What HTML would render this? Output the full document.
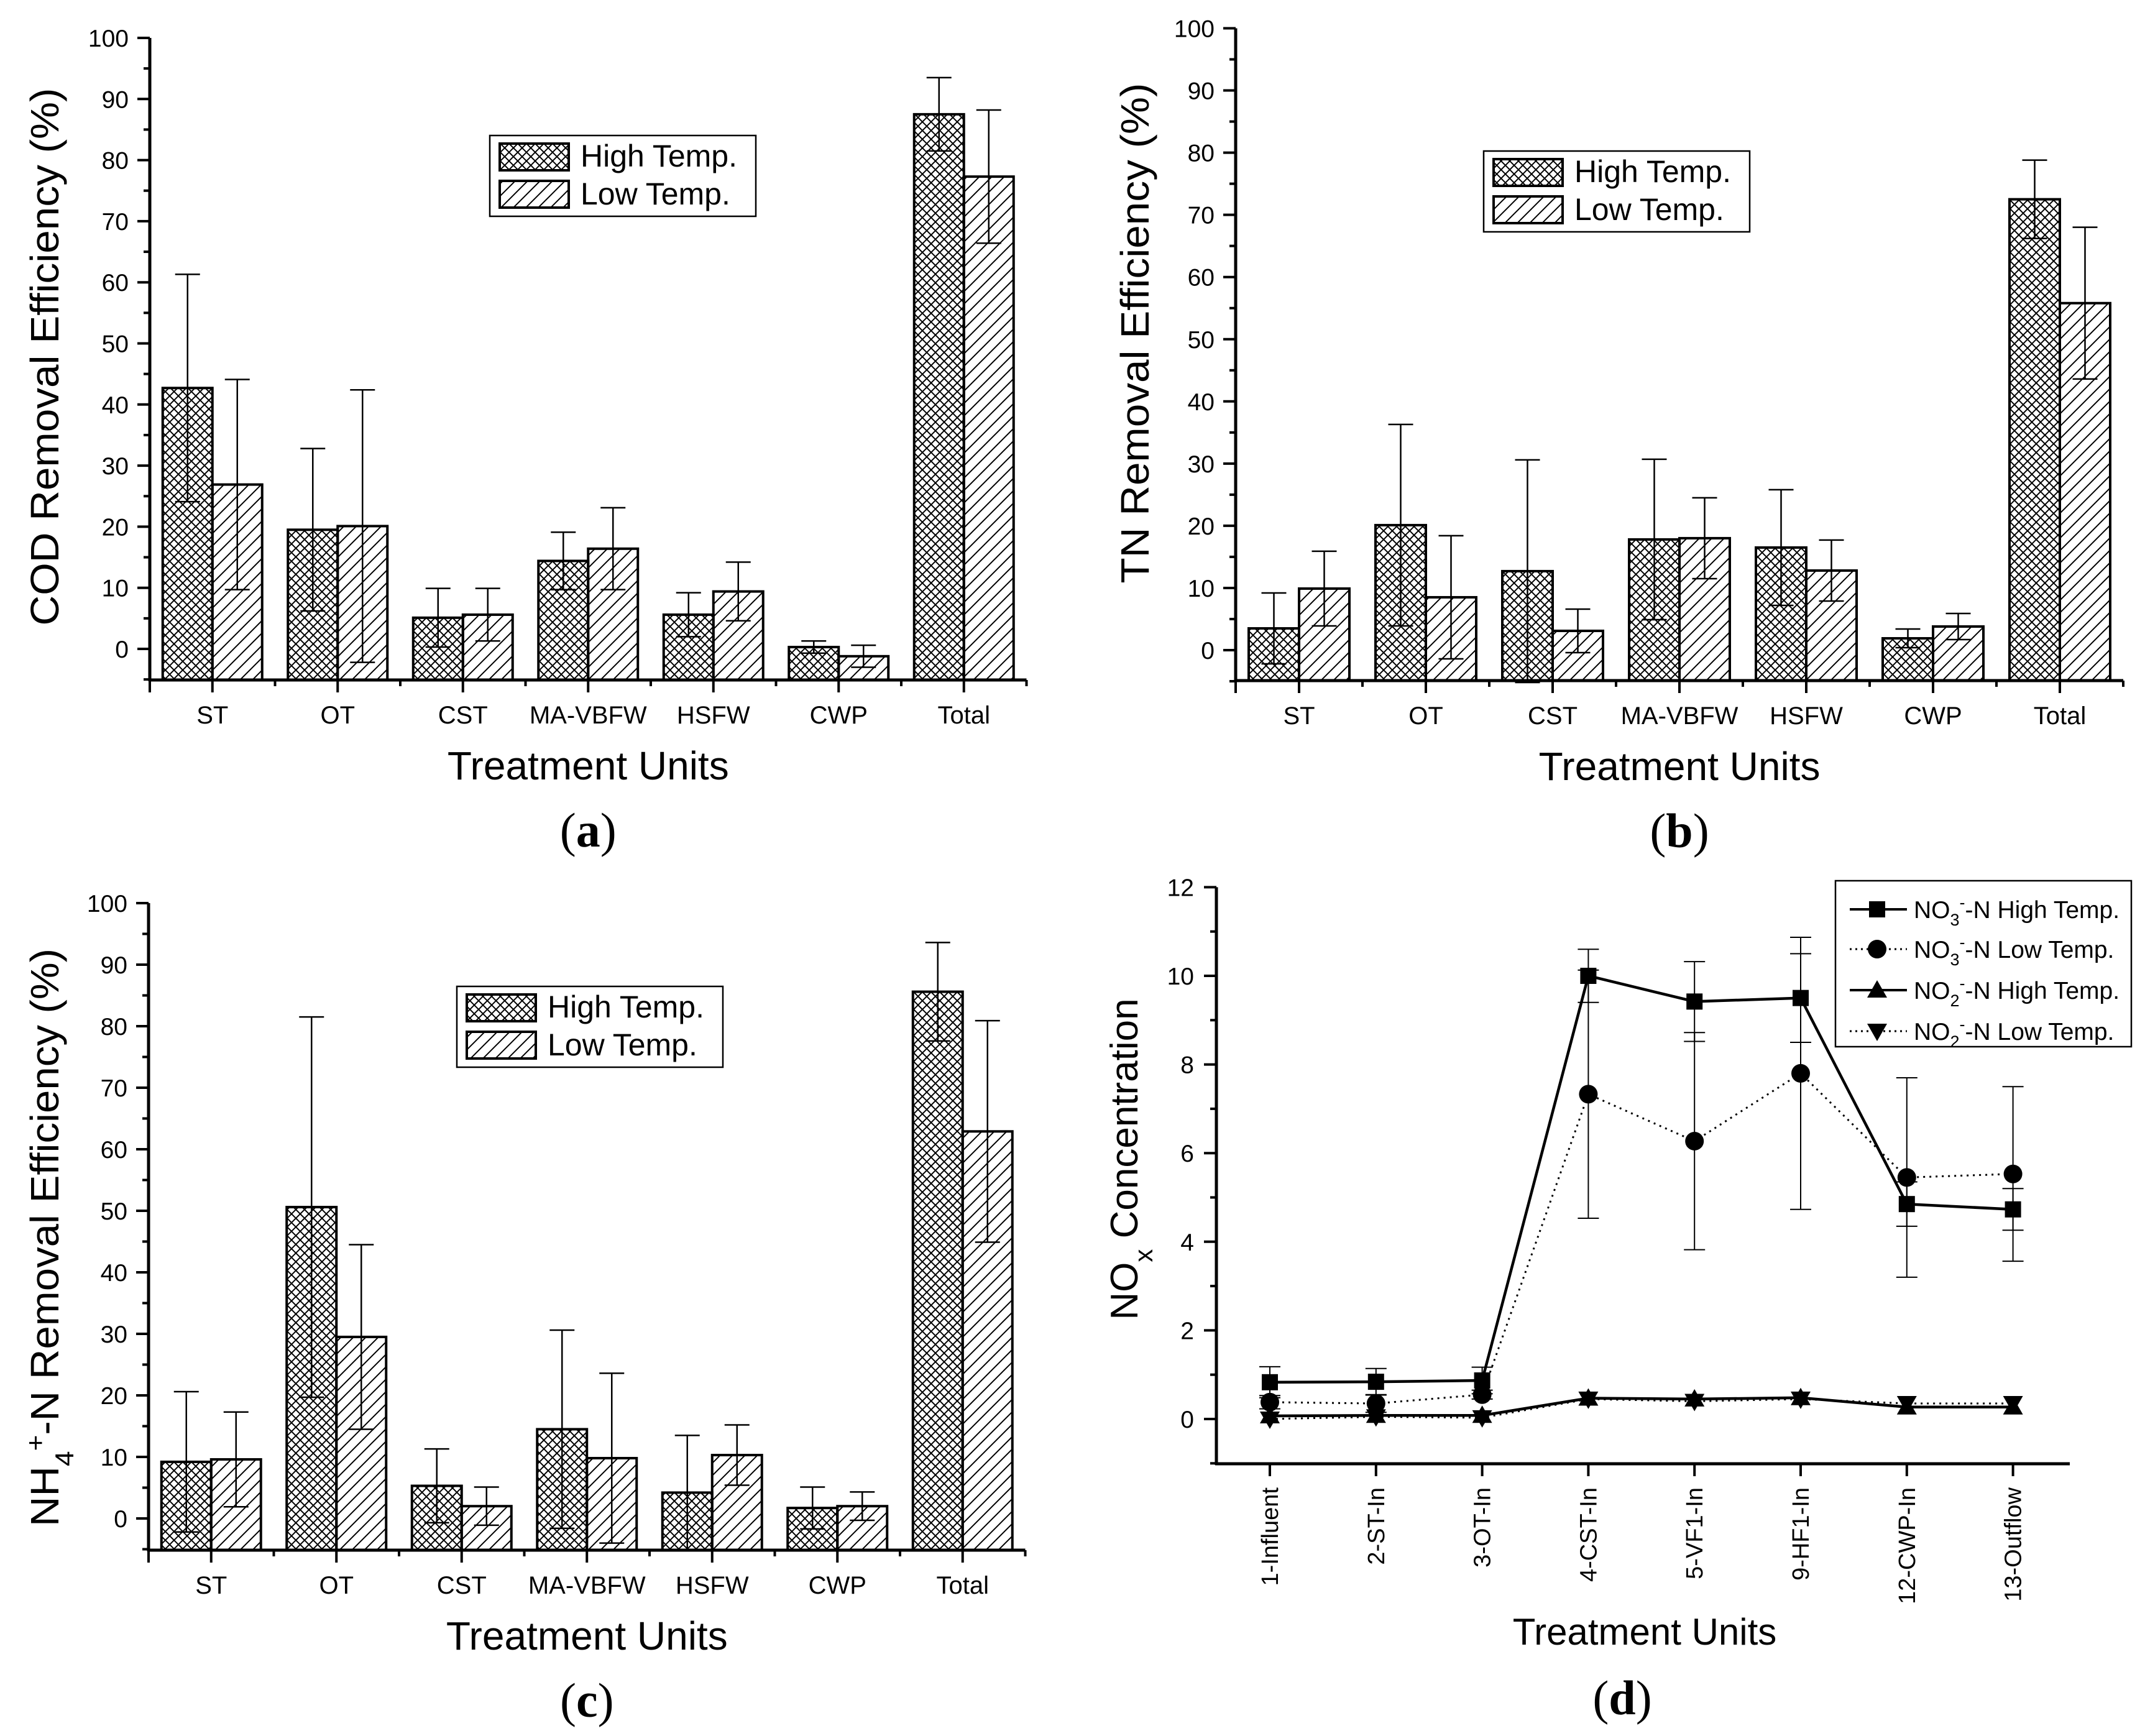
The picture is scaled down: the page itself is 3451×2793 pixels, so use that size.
<!DOCTYPE html>
<html><head><meta charset="utf-8"><title>Removal efficiency charts</title>
<style>
html,body{margin:0;padding:0;background:#fff;}
svg{display:block;font-family:"Liberation Sans",Arial,sans-serif;}
.serif{font-family:"Liberation Serif","DejaVu Serif",serif;}
</style></head>
<body>
<svg id="fig" xmlns="http://www.w3.org/2000/svg" width="3451" height="2793" viewBox="0 0 3451 2793">
<defs>
<pattern id="cross" patternUnits="userSpaceOnUse" width="14" height="14">
<path d="M0,0 L14,14 M14,0 L0,14" stroke="#000" stroke-width="2" fill="none"/>
</pattern>
<pattern id="diag" patternUnits="userSpaceOnUse" width="20" height="20">
<path d="M-5,25 L25,-5 M-5,5 L5,-5 M15,25 L25,15" stroke="#000" stroke-width="2" fill="none"/>
</pattern>
</defs>
<rect x="0" y="0" width="3451" height="2793" fill="#fff"/>
</svg>
<script>
// ---- bar chart data ----
const catsBar = ['ST','OT','CST','MA-VBFW','HSFW','CWP','Total'];
const yTicksBar = [0,10,20,30,40,50,60,70,80,90,100];
const codHigh = [42.7,19.5,5.1,14.4,5.6,0.3,87.5];
const codHighErr = [18.6,13.3,4.8,4.7,3.6,1.0,6.0];
const codLow = [26.9,20.1,5.6,16.4,9.4,-1.2,77.3];
const codLowErr = [17.2,22.3,4.3,6.7,4.8,1.8,10.9];
const tnHigh = [3.5,20.1,12.7,17.8,16.5,1.9,72.5];
const tnHighErr = [5.7,16.2,17.9,12.9,9.3,1.5,6.3];
const tnLow = [9.9,8.5,3.1,18.0,12.8,3.8,55.8];
const tnLowErr = [6.0,9.9,3.5,6.5,4.9,2.1,12.2];
const nhHigh = [9.2,50.6,5.3,14.5,4.2,1.7,85.6];
const nhHighErr = [11.4,30.9,6.0,16.1,9.3,3.4,8.0];
const nhLow = [9.6,29.5,2.0,9.8,10.3,2.0,62.9];
const nhLowErr = [7.7,15.0,3.1,13.8,4.9,2.3,18.0];
// ---- line chart data ----
const dCats = ['1-Influent','2-ST-In','3-OT-In','4-CST-In','5-VF1-In','9-HF1-In','12-CWP-In','13-Outflow'];
const yTicksD = [0,2,4,6,8,10,12];
const no3High = [0.83,0.84,0.87,10.0,9.42,9.5,4.85,4.73];
const no3HighErr = [0.35,0.3,0.3,0.6,0.9,1.0,0.5,0.47];
const no3Low = [0.38,0.35,0.55,7.33,6.27,7.8,5.45,5.53];
const no3LowErr = [0.15,0.2,0.1,2.8,2.45,3.07,2.25,1.97];
const no2High = [0.07,0.08,0.08,0.47,0.45,0.48,0.27,0.27];
const no2Low = [0.0,0.05,0.03,0.45,0.4,0.45,0.35,0.35];

const NS = 'http://www.w3.org/2000/svg';
const svg = document.getElementById('fig');
function mk(tag, attrs, parent){
  const el = document.createElementNS(NS, tag);
  for (const k in attrs) el.setAttribute(k, attrs[k]);
  (parent || svg).appendChild(el);
  return el;
}
function line(g,x1,y1,x2,y2,w){ return mk('line',{x1:x1,y1:y1,x2:x2,y2:y2,stroke:'#000','stroke-width':w||4},g); }

function barPanel(cfg){
  const g = mk('g',{});
  
  
  const unit = (cfg.y0 - cfg.y100)/100;
  const yS = v => cfg.y0 - v*unit;
  const xC = i => cfg.ax + cfg.sp/2 + i*cfg.sp;
  const right = cfg.ax + cfg.sp*catsBar.length;
  const bw = cfg.bw;
  for (let i=0;i<catsBar.length;i++){
    const series = [[cfg.high[i],cfg.highErr[i],'url(#cross)',-1,'high'],[cfg.low[i],cfg.lowErr[i],'url(#diag)',0,'low']];
    for (const s of series){
      const x = xC(i) + s[3]*bw;
      const top = yS(s[0]);
      const r = mk('rect',{x:x,y:Math.min(top,cfg.bot),width:bw,height:Math.abs(cfg.bot-top),fill:s[2],stroke:'#000','stroke-width':4},g);
      
      
      const cx = x + bw/2;
      const eb = mk('path',{d:`M${cx},${yS(s[0]-s[1])}V${yS(s[0]+s[1])}M${cx-20},${yS(s[0]+s[1])}H${cx+20}M${cx-20},${yS(s[0]-s[1])}H${cx+20}`,stroke:'#000','stroke-width':2.5,fill:'none'},g);
      
      
    }
  }
  const ya = line(g,cfg.ax,yS(100),cfg.ax,cfg.bot+2,5);
  
  
  const xa = line(g,cfg.ax-2,cfg.bot,right,cfg.bot,5);
  
  
  for (const t of yTicksBar){
    line(g,cfg.ax-20,yS(t),cfg.ax,yS(t),4);
    if (t<100) line(g,cfg.ax-10,yS(t+5),cfg.ax,yS(t+5),4);
    const tx = mk('text',{x:cfg.ax-34,y:yS(t)+14,'font-size':39,'text-anchor':'end'},g);
    tx.textContent = t;
    
    
  }
  line(g,cfg.ax-10,yS(-5),cfg.ax,yS(-5),4);
  line(g,cfg.ax,cfg.bot,cfg.ax,cfg.bot+20,4);
  for (let i=0;i<catsBar.length;i++){
    line(g,xC(i),cfg.bot,xC(i),cfg.bot+20,4);
    line(g,cfg.ax+(i+1)*cfg.sp,cfg.bot,cfg.ax+(i+1)*cfg.sp,cfg.bot+10,4);
    const tx = mk('text',{x:xC(i),y:cfg.bot+70,'font-size':40,'text-anchor':'middle'},g);
    tx.textContent = catsBar[i];
    
    
  }
  const xt = mk('text',{x:(cfg.ax+right)/2,y:cfg.bot+160,'font-size':64,'text-anchor':'middle'},g);
  xt.textContent = 'Treatment Units';
  
  
  const ytg = mk('text',{x:0,y:0,'font-size':64,'text-anchor':'middle',transform:`translate(${cfg.titleX},${cfg.titleY}) rotate(-90)`,textLength:cfg.titleLen,lengthAdjust:'spacingAndGlyphs'},g);
  
  
  if (cfg.nh){
    ytg.innerHTML = 'NH<tspan baseline-shift="sub" font-size="42">4</tspan><tspan baseline-shift="super" font-size="42">+</tspan>-N Removal Efficiency (%)';
  } else ytg.textContent = cfg.title;
  const pl = mk('text',{x:(cfg.ax+right)/2,y:cfg.bot+268,'font-size':78,'text-anchor':'middle','class':'serif'},g);
  pl.innerHTML = '(<tspan font-weight="bold">'+cfg.letter+'</tspan>)';
  
  
  const lg = mk('g',{},g);
  
  
  mk('rect',{x:cfg.lx,y:cfg.ly,width:428,height:130,fill:'#fff',stroke:'#000','stroke-width':2.5},lg);
  const ent = [['url(#cross)','High Temp.',13,50],['url(#diag)','Low Temp.',73,111]];
  for (const e of ent){
    const sw = mk('rect',{x:cfg.lx+16,y:cfg.ly+e[2],width:111,height:43,fill:e[0],stroke:'#000','stroke-width':4},lg);
    
    
    const tx = mk('text',{x:cfg.lx+146,y:cfg.ly+e[3],'font-size':50},lg);
    tx.textContent = e[1];
    
    
  }
}

barPanel({name:'cod-chart',letter:'a',ax:241,y0:1044,y100:61,bot:1094,sp:201.5,bw:80,
  high:codHigh,highErr:codHighErr,low:codLow,lowErr:codLowErr,title:'COD Removal Efficiency (%)',
  titleX:94,titleY:574,titleLen:865,lx:788,ly:218});
barPanel({name:'tn-chart',letter:'b',ax:1988,y0:1046,y100:45.5,bot:1095,sp:204,bw:81,
  high:tnHigh,highErr:tnHighErr,low:tnLow,lowErr:tnLowErr,title:'TN Removal Efficiency (%)',
  titleX:1848,titleY:536,titleLen:805,lx:2387,ly:243});
barPanel({name:'nh4-chart',letter:'c',ax:239,y0:2443,y100:1453,bot:2494,sp:201.5,bw:80,
  high:nhHigh,highErr:nhHighErr,low:nhLow,lowErr:nhLowErr,nh:true,
  titleX:94,titleY:1991,titleLen:930,lx:735,ly:1587});

(function(){
  const g = mk('g',{});
  
  
  const ax=1957, y0=2283, unit=71.3, bot=2355, right=3330, x0=2043, sp=170.8;
  const yS = v => y0 - v*unit;
  const xS = i => x0 + i*sp;
  const ya = line(g,ax,yS(12),ax,bot+2,5);
  
  
  const xa = line(g,ax-2,bot,right,bot,5);
  
  
  for (const t of yTicksD){
    line(g,ax-20,yS(t),ax,yS(t),4);
    if (t<12) line(g,ax-10,yS(t+1),ax,yS(t+1),4);
    const tx = mk('text',{x:ax-36,y:yS(t)+14,'font-size':39,'text-anchor':'end'},g);
    tx.textContent = t;
    
    
  }
  line(g,ax-10,yS(-1),ax,yS(-1),4);
  for (let i=0;i<dCats.length;i++){
    line(g,xS(i),bot,xS(i),bot+20,4);
    const tx = mk('text',{x:0,y:0,'font-size':38,'text-anchor':'end',transform:`translate(${xS(i)+13},${bot+38}) rotate(-90)`},g);
    tx.textContent = dCats[i];
    
    
  }
  const xt = mk('text',{x:2646,y:2646,'font-size':60,'text-anchor':'middle'},g);
  xt.textContent = 'Treatment Units';
  
  
  const yt = mk('text',{x:0,y:0,'font-size':62,'text-anchor':'middle',transform:'translate(1830,1865) rotate(-90)'},g);
  yt.innerHTML = 'NO<tspan baseline-shift="sub" font-size="42">x</tspan> Concentration';
  
  
  const pl = mk('text',{x:2610,y:2758,'font-size':78,'text-anchor':'middle','class':'serif'},g);
  pl.innerHTML = '(<tspan font-weight="bold">d</tspan>)';
  
  

  function errBars(vals, errs, nm){
    for (let i=0;i<vals.length;i++){
      const x=xS(i), a=yS(vals[i]+errs[i]), b=yS(vals[i]-errs[i]);
      const p = mk('path',{d:`M${x},${a}V${b}M${x-17},${a}H${x+17}M${x-17},${b}H${x+17}`,stroke:'#000','stroke-width':2,fill:'none'},g);
      
      
    }
  }
  function marker(type,x,y,parent){
    let el;
    if (type==='sq') el = mk('rect',{x:x-13,y:y-13,width:26,height:26,fill:'#000'},parent);
    else if (type==='ci') el = mk('circle',{cx:x,cy:y,r:15,fill:'#000'},parent);
    else if (type==='up') el = mk('path',{d:`M${x},${y-16}L${x+16},${y+12}L${x-16},${y+12}Z`,fill:'#000'},parent);
    else el = mk('path',{d:`M${x},${y+16}L${x+16},${y-12}L${x-16},${y-12}Z`,fill:'#000'},parent);
    return el;
  }
  function series(vals, type, dotted, nm){
    const pts = vals.map((v,i)=>xS(i)+','+yS(v)).join(' ');
    const pl = mk('polyline',{points:pts,fill:'none',stroke:'#000','stroke-width':dotted?3:4.5,'stroke-dasharray':dotted?'3,7':'none'},g);
    
    
    for (let i=0;i<vals.length;i++){
      const m = marker(type,xS(i),yS(vals[i]),g);
      
      
    }
  }
  errBars(no3Low,no3LowErr,'no3-low');
  errBars(no3High,no3HighErr,'no3-high');
  series(no3Low,'ci',true,'no3-low');
  series(no3High,'sq',false,'no3-high');
  series(no2Low,'dn',true,'no2-low');
  series(no2High,'up',false,'no2-high');

  const lg = mk('g',{},g);
  
  
  mk('rect',{x:2953,y:1417,width:476,height:267,fill:'#fff',stroke:'#000','stroke-width':2.5},lg);
  const ents = [['sq',false,'3','High'],['ci',true,'3','Low'],['up',false,'2','High'],['dn',true,'2','Low']];
  const ys = [1463,1527,1593,1659];
  for (let k=0;k<4;k++){
    const e = ents[k], y = ys[k];
    mk('line',{x1:2976,y1:y,x2:3068,y2:y,stroke:'#000','stroke-width':e[1]?3:4,'stroke-dasharray':e[1]?'3,6':'none'},lg);
    marker(e[0],3020,y,lg);
    const tx = mk('text',{x:3079,y:y+14,'font-size':39},lg);
    tx.innerHTML = 'NO<tspan dy="12" font-size="27">'+e[2]+'</tspan><tspan dy="-28" font-size="27">-</tspan><tspan dy="16">-N '+e[3]+' Temp.</tspan>';
    
    
  }
})();
</script>
</body></html>
